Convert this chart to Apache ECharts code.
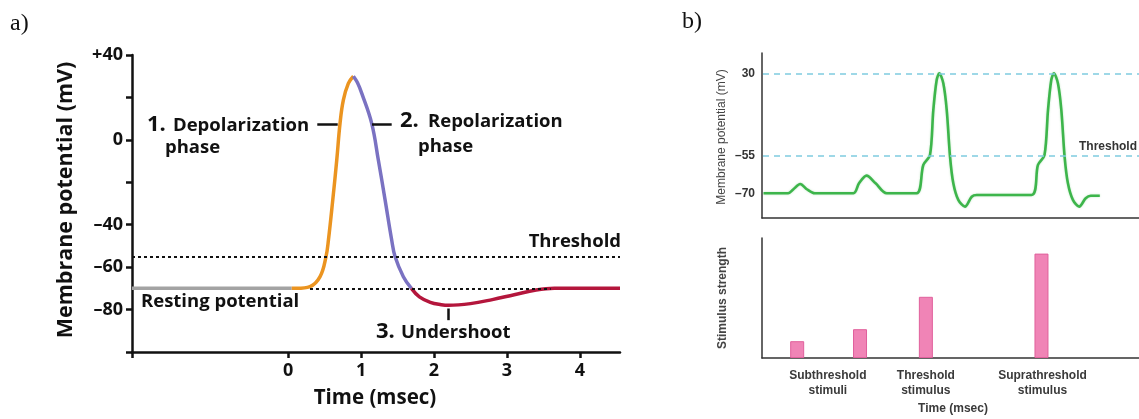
<!DOCTYPE html>
<html>
<head>
<meta charset="utf-8">
<script src="https://cdn.jsdelivr.net/npm/echarts@6/dist/echarts.min.js"></script>
<style>
  html, body { margin: 0; padding: 0; background: #fff; }
  #chart { width: 1139px; height: 419px; }
</style>
</head>
<body>
<div id="chart"></div>
<script>
// ---- Panel a: a single action potential (time in msec, potential in mV) ----
const restingPhase   = [[-2.14, -70], [0.05, -70]];
const depolarization = [[0.05, -70], [0.12, -70], [0.3, -69.2], [0.438, -64.5], [0.52, -55], [0.553, -47.2],
                        [0.612, -28.4], [0.667, -9.5], [0.712, 7.8], [0.758, 18.8], [0.826, 26.6], [0.895, 30]];
const repolarization = [[0.895, 30], [0.95, 27], [1.01, 21.9], [1.146, 7.8], [1.237, -9.5], [1.33, -28.4],
                        [1.42, -47.2], [1.466, -55], [1.58, -64.5], [1.69, -70]];
const undershoot     = [[1.69, -70], [1.8, -74], [1.95, -76.6], [2.1, -77.7], [2.2, -78], [2.5, -77.2],
                        [2.8, -75.3], [3.1, -73], [3.4, -70.8], [3.65, -70], [4.55, -70]];
const thresholdA = -55;
const restingA = -70;
const yTicksA = [-100, -80, -60, -40, -20, 0, 20, 40];
const yLabelsA = [40, 0, -40, -60, -80];
const xTicksA = [-2.14, 0, 1, 2, 3, 4];
const xLabelsA = [0, 1, 2, 3, 4];

// ---- Panel b (top): membrane potential under repeated stimuli ----
const greenTrace = [
  [0.3, -70], [5.2, -70], [6.2, -68.5], [7.6, -66.3], [9, -68.5], [10.5, -70],
  [18.2, -70], [19.3, -66], [20.8, -62.9], [22.6, -66], [24.8, -70],
  [30.77, -70], [32.09, -58.6], [33.42, -54], [34.08, -7.7], [34.75, 23.1], [35.27, 30], [36.07, 19.7],
  [36.75, -7.7], [37.41, -55.3], [38.06, -66], [39.05, -72.7], [40.38, -75.4], [41.72, -71.4],
  [42.71, -70.7], [53.6, -70.7],
  [54.9, -58.6], [56.2, -54], [56.9, -7.7], [57.55, 23.1], [58.07, 30], [58.87, 19.7],
  [59.55, -7.7], [60.2, -55.3], [60.86, -66], [61.85, -72.7], [63.1, -75.4], [64.4, -72],
  [65.4, -71], [67.2, -71]
];
const peakB = 30;
const thresholdB = -55;
const yTicksB = [30, -55, -70];

// ---- Panel b (bottom): stimulus strength ----
const stimulusTimes = [7.0, 19.5, 32.6, 55.6];
const stimulusStrength = [1.4, 2.4, 5.1, 8.7];
const stimulusGroupTimes = [13.1, 32.6, 55.8];
const stimulusGroupLabels = ['Subthreshold\nstimuli', 'Threshold\nstimulus', 'Suprathreshold\nstimulus'];

// The schematic potential axis is drawn stretched below threshold.
const LOWER_STRETCH = 2.55;
const toAxis = mv => (mv >= -55 ? mv : -55 + (mv + 55) * LOWER_STRETCH);

const dash = v => (v < 0 ? '\u2013' + Math.abs(v) : (v > 0 ? '+' + v : '' + v));

const chart = echarts.init(document.getElementById('chart'), null, { renderer: 'canvas' });

const boldA = { fontFamily: 'Open Sans', fontWeight: 'bold', color: '#111' };
const fontB = 'Liberation Sans';

const lineA = (name, data, color) => ({
  name, type: 'line', xAxisIndex: 0, yAxisIndex: 0, data,
  smooth: 0.4, showSymbol: false, symbol: 'none', z: 3,
  lineStyle: { color, width: 3.5 }
});

const option = {
  animation: false,
  backgroundColor: '#ffffff',
  grid: [
    { left: 132, top: 55, width: 488, height: 297 },
    { left: 762, top: 53, width: 377, height: 165 },
    { left: 762, top: 238, width: 377, height: 120 }
  ],
  xAxis: [
    {
      gridIndex: 0, type: 'value', min: -2.14, max: 4.55,
      axisLine: { show: true, onZero: false, lineStyle: { color: '#111', width: 2.5 } },
      axisTick: { show: true, customValues: xTicksA, length: 6, lineStyle: { color: '#111', width: 2.5 } },
      axisLabel: { customValues: xLabelsA, margin: 10, fontSize: 18, ...boldA },
      splitLine: { show: false }
    },
    {
      gridIndex: 1, type: 'value', min: 0, max: 75,
      axisLine: { show: true, onZero: false, lineStyle: { color: '#333', width: 1.5 } },
      axisTick: { show: false }, axisLabel: { show: false }, splitLine: { show: false }
    },
    {
      gridIndex: 2, type: 'value', min: 0, max: 75,
      axisLine: { show: true, onZero: false, lineStyle: { color: '#333', width: 1.5 } },
      axisTick: { show: false },
      axisLabel: {
        customValues: stimulusGroupTimes, margin: 10, fontSize: 12, lineHeight: 15,
        fontFamily: fontB, fontWeight: 'bold', color: '#3a3a3a',
        formatter: v => stimulusGroupLabels[stimulusGroupTimes.indexOf(v)] || ''
      },
      splitLine: { show: false }
    }
  ],
  yAxis: [
    {
      gridIndex: 0, type: 'value', min: -100, max: 40, interval: 20,
      axisLine: { show: true, onZero: false, lineStyle: { color: '#111', width: 2.5 } },
      axisTick: { show: true, customValues: yTicksA, length: 6, lineStyle: { color: '#111', width: 2.5 } },
      axisLabel: { customValues: yLabelsA, margin: 9, fontSize: 18, ...boldA, formatter: v => dash(v) },
      splitLine: { show: false }
    },
    {
      gridIndex: 1, type: 'value', min: -118.7, max: 50.9,
      axisLine: { show: true, onZero: false, lineStyle: { color: '#333', width: 1.5 } },
      axisTick: { show: false },
      axisLabel: {
        customValues: yTicksB.map(toAxis), margin: 7, fontSize: 12,
        fontFamily: fontB, fontWeight: 'bold', color: '#333',
        formatter: v => {
          const t = yTicksB.find(m => Math.abs(toAxis(m) - v) < 0.01);
          return t === undefined ? '' : (t < 0 ? '\u2013' + Math.abs(t) : '' + t);
        }
      },
      splitLine: { show: false }
    },
    {
      gridIndex: 2, type: 'value', min: 0, max: 10,
      axisLine: { show: true, onZero: false, lineStyle: { color: '#333', width: 1.5 } },
      axisTick: { show: false }, axisLabel: { show: false }, splitLine: { show: false }
    }
  ],
  series: [
    // reference lines and leader lines for panel a
    {
      type: 'line', xAxisIndex: 0, yAxisIndex: 0, data: [], z: 2,
      markLine: {
        silent: true, symbol: 'none', label: { show: false },
        lineStyle: { color: '#111', width: 2, type: [3, 3] },
        data: [
          [{ coord: [-2.14, thresholdA] }, { coord: [4.55, thresholdA] }],
          [{ coord: [0.3, restingA] }, { coord: [3.6, restingA] }],
          [{ coord: [0.40, 7.5], lineStyle: { type: 'solid', width: 2.5 } }, { coord: [0.68, 7.5] }],
          [{ coord: [1.15, 7.5], lineStyle: { type: 'solid', width: 2.5 } }, { coord: [1.42, 7.5] }],
          [{ coord: [2.19, -79.5], lineStyle: { type: 'solid', width: 2.5 } }, { coord: [2.19, -85] }]
        ]
      }
    },
    lineA('Resting potential', restingPhase, '#a3a3a3'),
    lineA('Depolarization', depolarization, '#eb9420'),
    lineA('Repolarization', repolarization, '#7a72c2'),
    lineA('Undershoot', undershoot, '#b4163c'),

    // panel b top
    {
      type: 'line', xAxisIndex: 1, yAxisIndex: 1, data: [], z: 2,
      markLine: {
        silent: true, symbol: 'none', label: { show: false },
        lineStyle: { color: '#7fcbe0', width: 1.5, type: [6, 5] },
        data: [
          [{ coord: [0.2, toAxis(peakB)] }, { coord: [75, toAxis(peakB)] }],
          [{ coord: [0.2, toAxis(thresholdB)] }, { coord: [75, toAxis(thresholdB)] }]
        ]
      }
    },
    {
      name: 'Membrane potential', type: 'line', xAxisIndex: 1, yAxisIndex: 1, z: 3,
      data: greenTrace.map(([t, v]) => [t, toAxis(v)]),
      smooth: 0.3, showSymbol: false, symbol: 'none',
      lineStyle: { color: '#3db54b', width: 2.6, shadowColor: 'rgba(61,181,75,0.35)', shadowBlur: 2 }
    },

    // panel b bottom
    {
      name: 'Stimulus strength', type: 'bar', xAxisIndex: 2, yAxisIndex: 2, barWidth: 14,
      data: stimulusTimes.map((t, i) => [t, stimulusStrength[i]]),
      itemStyle: { color: '#f084b6', borderColor: '#e0609c', borderWidth: 1 }
    }
  ],
  graphic: [
    { type: 'text', x: 10, y: 24, style: { text: 'a)', font: '24px "Liberation Serif"', fill: '#111', verticalAlign: 'middle' } },
    { type: 'text', x: 682, y: 22, style: { text: 'b)', font: '24px "Liberation Serif"', fill: '#111', verticalAlign: 'middle' } },

    { type: 'text', x: 66, y: 200, rotation: Math.PI / 2,
      style: { text: 'Membrane potential (mV)', font: 'bold 21.5px "Open Sans"', fill: '#111', align: 'center', verticalAlign: 'middle' } },
    { type: 'text', x: 375, y: 398,
      style: { text: 'Time (msec)', font: 'bold 20.5px "Open Sans"', fill: '#111', align: 'center', verticalAlign: 'middle' } },

    { type: 'text', x: 147, y: 125, style: { text: '1.', font: 'bold 22px "Open Sans"', fill: '#111', verticalAlign: 'middle' } },
    { type: 'text', x: 173, y: 126, style: { text: 'Depolarization', font: 'bold 18.5px "Open Sans"', fill: '#111', verticalAlign: 'middle' } },
    { type: 'text', x: 165, y: 148, style: { text: 'phase', font: 'bold 18.5px "Open Sans"', fill: '#111', verticalAlign: 'middle' } },

    { type: 'text', x: 400, y: 121, style: { text: '2.', font: 'bold 22px "Open Sans"', fill: '#111', verticalAlign: 'middle' } },
    { type: 'text', x: 428, y: 122, style: { text: 'Repolarization', font: 'bold 18.5px "Open Sans"', fill: '#111', verticalAlign: 'middle' } },
    { type: 'text', x: 418, y: 147, style: { text: 'phase', font: 'bold 18.5px "Open Sans"', fill: '#111', verticalAlign: 'middle' } },

    { type: 'text', x: 621, y: 242, style: { text: 'Threshold', font: 'bold 18.5px "Open Sans"', fill: '#111', align: 'right', verticalAlign: 'middle' } },
    { type: 'text', x: 141, y: 302, style: { text: 'Resting potential', font: 'bold 18.5px "Open Sans"', fill: '#111', verticalAlign: 'middle' } },
    { type: 'text', x: 376, y: 332, style: { text: '3.', font: 'bold 22px "Open Sans"', fill: '#111', verticalAlign: 'middle' } },
    { type: 'text', x: 401, y: 333, style: { text: 'Undershoot', font: 'bold 18.5px "Open Sans"', fill: '#111', verticalAlign: 'middle' } },

    { type: 'text', x: 722, y: 137, rotation: Math.PI / 2,
      style: { text: 'Membrane potential (mV)', font: '12px "Liberation Sans"', fill: '#444', align: 'center', verticalAlign: 'middle' } },
    { type: 'text', x: 1137, y: 147, style: { text: 'Threshold', font: 'bold 12px "Liberation Sans"', fill: '#333', align: 'right', verticalAlign: 'middle' } },
    { type: 'text', x: 723, y: 298, rotation: Math.PI / 2,
      style: { text: 'Stimulus strength', font: 'bold 12px "Liberation Sans"', fill: '#444', align: 'center', verticalAlign: 'middle' } },
    { type: 'text', x: 953, y: 409, style: { text: 'Time (msec)', font: 'bold 12px "Liberation Sans"', fill: '#3a3a3a', align: 'center', verticalAlign: 'middle' } }
  ]
};

chart.setOption(option);
</script>
</body>
</html>
